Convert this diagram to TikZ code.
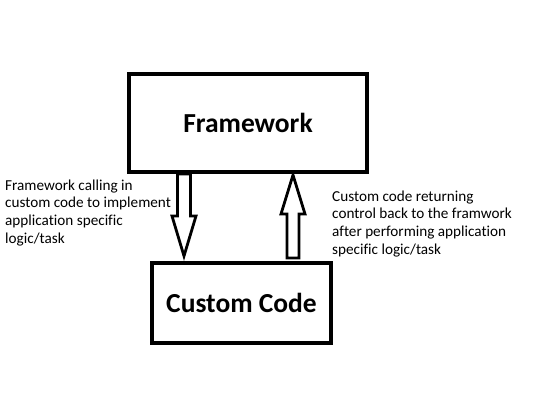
\documentclass[tikz,border=0pt]{standalone}
\usepackage{fontspec}
\setmainfont[Ligatures=NoCommon]{Carlito}
\begin{document}
\begin{tikzpicture}[x=1pt,y=-1pt,
  box/.style={draw=black,line width=3.2pt,fill=white,font=\fontsize{27.5}{32}\selectfont\bfseries,inner sep=0pt},
  blockarrow/.style={draw=black,line width=2.8pt,fill=white,line join=miter},
  note/.style={align=left,inner sep=0pt,font=\fontsize{15.2}{17.6}\selectfont}]
\useasboundingbox[fill=white] (0,0) rectangle (535,404);
\node[box,minimum width=238pt,minimum height=98pt] (fw) at (248,123) {Framework};
\node[box,minimum width=179pt,minimum height=80pt] (cc) at (241.5,303) {Custom Code};
% down arrow
\draw[blockarrow] (177.5,174) -- (190.5,174) -- (190.5,216) -- (196,216) -- (184,256) -- (172,216) -- (177.5,216) -- cycle;
% up arrow
\draw[blockarrow] (287,258) -- (299,258) -- (299,214) -- (305,214) -- (293,175) -- (281,214) -- (287,214) -- cycle;
\node[note,anchor=north west] (lt) at (5,179.5) {Framework calling in\\custom code to implement\\application specific\\logic/task};
\node[note,anchor=north west] (rt) at (332,190.5) {Custom code returning\\control back to the framwork\\after performing application\\specific logic/task};
\end{tikzpicture}
\end{document}
